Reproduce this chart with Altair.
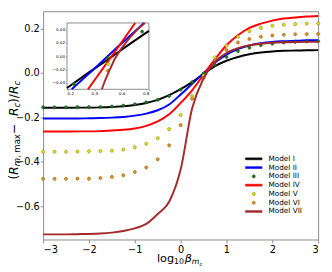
import altair as alt
import pandas as pd

# ---------------- data ----------------
x_grid = [-3.0, -2.75, -2.5, -2.25, -2.0, -1.75, -1.5, -1.25, -1.0, -0.75, -0.5, -0.25,
          0.0, 0.25, 0.5, 0.75, 1.0, 1.25, 1.5, 1.75, 2.0, 2.25, 2.5, 2.75, 3.0]

model_i = [-0.157, -0.157, -0.157, -0.156, -0.156, -0.155, -0.153, -0.150, -0.144, -0.135, -0.121, -0.100,
           -0.073, -0.041, -0.005, 0.031, 0.055, 0.072, 0.084, 0.092, 0.097, 0.100, 0.101, 0.102, 0.103]
model_ii = [-0.205, -0.205, -0.205, -0.205, -0.204, -0.203, -0.201, -0.198, -0.192, -0.183, -0.168, -0.142,
            -0.097, -0.049, -0.001, 0.047, 0.083, 0.108, 0.124, 0.134, 0.140, 0.143, 0.145, 0.147, 0.148]
model_iii = [-0.155, -0.155, -0.155, -0.154, -0.154, -0.153, -0.151, -0.147, -0.141, -0.132, -0.121, -0.104,
             -0.075, -0.042, -0.002, 0.037, 0.072, 0.098, 0.114, 0.125, 0.132, 0.137, 0.140, 0.142, 0.143]
model_iv = [-0.264, -0.264, -0.264, -0.263, -0.263, -0.262, -0.259, -0.256, -0.250, -0.238, -0.218, -0.186,
            -0.135, -0.078, -0.008, 0.062, 0.125, 0.170, 0.203, 0.222, 0.236, 0.245, 0.250, 0.254, 0.257]
model_v = [-0.355, -0.355, -0.355, -0.354, -0.353, -0.352, -0.350, -0.345, -0.335, -0.319, -0.294, -0.253,
           -0.189, -0.104, -0.012, 0.070, 0.123, 0.163, 0.188, 0.203, 0.213, 0.217, 0.220, 0.222, 0.223]
model_vi = [-0.477, -0.477, -0.477, -0.476, -0.476, -0.473, -0.468, -0.461, -0.446, -0.426, -0.389, -0.326,
            -0.235, -0.116, -0.022, 0.057, 0.104, 0.137, 0.153, 0.163, 0.169, 0.172, 0.174, 0.175, 0.176]
model_vii = [-0.727, -0.727, -0.727, -0.726, -0.725, -0.723, -0.719, -0.712, -0.700, -0.680, -0.635, -0.580,
             -0.435, -0.160, -0.025, 0.050, 0.090, 0.112, 0.125, 0.132, 0.136, 0.138, 0.139, 0.140, 0.140]

# inset (zoom of 0.2 <= x <= 0.8), lines read where they lie inside the inset box
inset_i_x = [0.20, 0.35, 0.50, 0.65, 0.80]
inset_i_y = [-0.048, -0.026, -0.005, 0.017, 0.038]
inset_ii_x = [0.234, 0.40, 0.55, 0.70, 0.763]
inset_ii_y = [-0.050, -0.019, 0.010, 0.038, 0.050]
inset_iv_x = [0.354, 0.50, 0.60, 0.699]
inset_iv_y = [-0.050, -0.008, 0.021, 0.050]
inset_vii_x = [0.455, 0.48, 0.51, 0.55, 0.60, 0.66, 0.72, 0.77]
inset_vii_y = [-0.050, -0.036, -0.022, -0.004, 0.012, 0.028, 0.041, 0.050]

models = ["Model I", "Model II", "Model III", "Model IV", "Model V", "Model VI", "Model VII"]
series = [model_i, model_ii, model_iii, model_iv, model_v, model_vi, model_vii]
line_models = ["Model I", "Model II", "Model IV"]
top_line_models = ["Model VII"]
dot_models = ["Model III", "Model V", "Model VI"]

x_ticks = [-3, -2, -1, 0, 1, 2, 3]
y_ticks = [-0.6, -0.4, -0.2, 0.0, 0.2]
inset_x_ticks = [0.2, 0.4, 0.6, 0.8]
inset_y_ticks = [-0.04, -0.02, 0.0, 0.02, 0.04]

# ---------------- tables ----------------
rows = []
for name, vals in zip(models, series):
    for xv, yv in zip(x_grid, vals):
        rows.append({"x": xv, "y": yv, "model": name})
main_df = pd.DataFrame(rows)

inset_rows = []
for name, xs, ys in [("Model I", inset_i_x, inset_i_y), ("Model II", inset_ii_x, inset_ii_y),
                     ("Model IV", inset_iv_x, inset_iv_y), ("Model VII", inset_vii_x, inset_vii_y)]:
    for xv, yv in zip(xs, ys):
        inset_rows.append({"x": xv, "y": yv, "model": name})
inset_df = pd.DataFrame(inset_rows)

# ---------------- styles ----------------
FONT = "DejaVu Sans"
FRAME = "#8a8a8a"
bar_path = "M-1.7,-0.2H1.7V0.2H-1.7Z"
dot_path = "M0.32,0A0.32,0.32,0,1,1,-0.32,0A0.32,0.32,0,1,1,0.32,0"

stroke_scale = alt.Scale(domain=models, range=["#000000", "#0000ff", "#0b4d0b", "#ff0000",
                                               "#6b6b00", "#7a4a00", "#a52a2a"])
fill_scale = alt.Scale(domain=models, range=["#000000", "#0000ff", "#1f7a1f", "#ff0000",
                                             "#e8e000", "#e0931a", "#a52a2a"])
shape_scale = alt.Scale(domain=models, range=[bar_path, bar_path, dot_path, bar_path,
                                              dot_path, dot_path, bar_path])

legend = alt.Legend(title=None, orient="none", legendX=210.5, legendY=145.8, padding=0,
                    labelFontSize=7.5, labelFont=FONT, labelColor="black", symbolSize=100,
                    symbolStrokeWidth=0.5, rowPadding=0, labelOffset=9.5)

xs = alt.Scale(domain=[-3, 3], nice=False, zero=False)
ys = alt.Scale(domain=[-0.75, 0.278], nice=False, zero=False)
x_axis = alt.Axis(values=x_ticks, format="d", title=None, grid=False, domain=False,
                  tickSize=3.5, tickColor=FRAME, labelFontSize=10, labelFont=FONT,
                  labelColor="black", labelPadding=2)
y_axis = alt.Axis(values=y_ticks, format=".1f", title=None, grid=False, domain=False,
                  tickSize=3, tickColor=FRAME, labelFontSize=10, labelFont=FONT,
                  labelColor="black", labelPadding=1)

enc_x = alt.X("x:Q", scale=xs, axis=x_axis)
enc_y = alt.Y("y:Q", scale=ys, axis=y_axis)

base = alt.Chart(main_df)
lines_a = base.transform_filter(
    alt.FieldOneOfPredicate(field="model", oneOf=line_models)
).mark_line(strokeWidth=2, interpolate="monotone").encode(
    x=enc_x, y=enc_y, stroke=alt.Stroke("model:N", scale=stroke_scale, legend=legend))

dots = base.transform_filter(
    alt.FieldOneOfPredicate(field="model", oneOf=dot_models)
).mark_point(filled=True, size=100, strokeWidth=0.5, opacity=1).encode(
    x=enc_x, y=enc_y,
    fill=alt.Fill("model:N", scale=fill_scale, legend=legend),
    stroke=alt.Stroke("model:N", scale=stroke_scale, legend=legend),
    shape=alt.Shape("model:N", scale=shape_scale, legend=legend))

lines_b = base.transform_filter(
    alt.FieldOneOfPredicate(field="model", oneOf=top_line_models)
).mark_line(strokeWidth=2, interpolate="monotone").encode(
    x=enc_x, y=enc_y, stroke=alt.Stroke("model:N", scale=stroke_scale, legend=legend))


def piece(text, x, y, size, italic=False, angle=None):
    kw = dict(align="left", baseline="alphabetic", fontSize=size, font=FONT, color="black")
    if italic:
        kw["fontStyle"] = "italic"
    if angle is not None:
        kw["angle"] = angle
    return alt.Chart(pd.DataFrame({"t": [text]})).mark_text(**kw).encode(
        text="t:N", x=alt.value(x), y=alt.value(y))


# x title: log10 beta_{m_c}
x_title = [
    piece("log", 116.7, 257, 11.5),
    piece("10", 134.2, 259.5, 8),
    piece("β", 145.2, 257, 11.5, italic=True),
    piece("m", 152.5, 259.5, 8, italic=True),
    piece("c", 160.3, 261, 5.6, italic=True),
]
# y title: (R_{m, max} - R_c)/R_c  (rotated)
MX, SX = -25.7, -23.5
MS, SS = 12.5, 8.75
y_title = [
    piece("(", MX, 172.6, MS, angle=270),
    piece("R", MX, 167.73, MS, italic=True, angle=270),
    piece("m", SX, 159.04, SS, italic=True, angle=270),
    piece(", max", SX, 150.52, SS, angle=270),
    piece(" − ", MX, 125.89, MS, angle=270),
    piece("R", MX, 107.46, MS, italic=True, angle=270),
    piece("c", SX, 98.77, SS, italic=True, angle=270),
    piece(")/", MX, 93.96, MS, angle=270),
    piece("R", MX, 84.87, MS, italic=True, angle=270),
    piece("c", SX, 76.18, SS, italic=True, angle=270),
]

main_group = alt.layer(lines_a, dots, lines_b, *x_title, *y_title)

# ---------------- inset ----------------
xs_in = alt.Scale(domain=[0.2, 0.8], range=[24.5, 108.5], nice=False, zero=False)
ys_in = alt.Scale(domain=[-0.05, 0.05], range=[80, 12], nice=False, zero=False)
in_x_axis = alt.Axis(values=inset_x_ticks, format=".1f", title=None, grid=False, domain=False,
                     orient="bottom", offset=-154, tickSize=1.5, tickColor=FRAME,
                     labelFontSize=4.2, labelFont=FONT, labelColor="black", labelPadding=1)
in_y_axis = alt.Axis(values=inset_y_ticks, format=".2f", title=None, grid=False, domain=False,
                     orient="left", offset=-24.5, tickSize=1.5, tickColor=FRAME,
                     labelFontSize=4.2, labelFont=FONT, labelColor="black", labelPadding=1)

frame = alt.Chart(pd.DataFrame({"a": [0]})).mark_rect(
    fill="white", stroke=FRAME, strokeWidth=1).encode(
    x=alt.XDatum(0.2, type="quantitative", scale=xs_in, axis=in_x_axis),
    x2=alt.X2Datum(0.8),
    y=alt.YDatum(-0.05, type="quantitative", scale=ys_in, axis=in_y_axis),
    y2=alt.Y2Datum(0.05))

in_x = alt.X("x:Q", scale=xs_in, axis=in_x_axis)
in_y = alt.Y("y:Q", scale=ys_in, axis=in_y_axis)

in_lines_a = alt.Chart(inset_df).transform_filter(
    alt.FieldOneOfPredicate(field="model", oneOf=line_models)
).mark_line(strokeWidth=2).encode(
    x=in_x, y=in_y, stroke=alt.Stroke("model:N", scale=stroke_scale, legend=None))

in_dots = alt.Chart(main_df).transform_filter(
    alt.FieldOneOfPredicate(field="model", oneOf=dot_models)
).transform_filter(
    "datum.x >= 0.2 && datum.x <= 0.8 && datum.y >= -0.05 && datum.y <= 0.05"
).mark_point(filled=True, size=100, strokeWidth=0.5, opacity=1).encode(
    x=in_x, y=in_y,
    fill=alt.Fill("model:N", scale=fill_scale, legend=None),
    stroke=alt.Stroke("model:N", scale=stroke_scale, legend=None),
    shape=alt.Shape("model:N", scale=shape_scale, legend=None))

in_lines_b = alt.Chart(inset_df).transform_filter(
    alt.FieldOneOfPredicate(field="model", oneOf=top_line_models)
).mark_line(strokeWidth=2).encode(
    x=in_x, y=in_y, stroke=alt.Stroke("model:N", scale=stroke_scale, legend=None))

inset_group = alt.layer(frame, in_lines_a, in_dots, in_lines_b)

chart = alt.layer(main_group, inset_group).resolve_scale(
    x="independent", y="independent"
).properties(
    width=282, height=234,
    autosize=alt.AutoSizeParams(type="none"),
    padding={"left": 36, "top": 0, "right": 6, "bottom": 30},
).configure_view(stroke=FRAME, strokeWidth=1)

chart.save("out.html", embed_options={"renderer": "svg", "actions": False})
